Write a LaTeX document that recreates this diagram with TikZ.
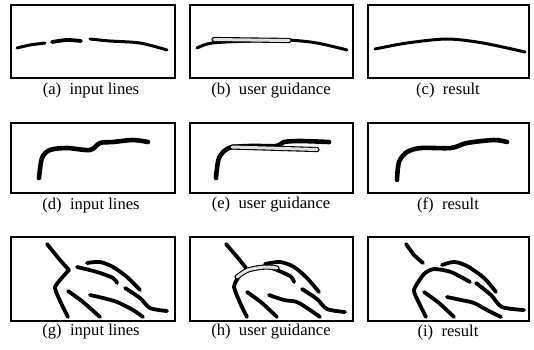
\documentclass[tikz,border=0pt]{standalone}
\usepackage{fontspec}
\setmainfont{Liberation Serif}
\begin{document}
\begin{tikzpicture}[x=1pt,y=-1pt,
  panel/.style={draw=black,line width=1.1pt},
  stroke/.style={draw=black,line width=3.8pt,line cap=round,line join=round},
  thin stroke/.style={draw=black,line width=3pt,line cap=round,line join=round},
  guide/.style={draw=black,line width=1.1pt,double=black!12,double distance=3pt,line cap=round,line join=round},
  captext/.style={font=\fontsize{16.6}{18}\selectfont,inner sep=0pt,anchor=center}]
\useasboundingbox (0,0) rectangle (534,349);
\fill[white] (0,0) rectangle (534,349);
% panels
\draw[panel] (11,5) rectangle (175,78);
\draw[panel] (190,5) rectangle (353,78);
\draw[panel] (368,5) rectangle (529,78);
\draw[panel] (11,123) rectangle (175,193);
\draw[panel] (190,123) rectangle (353,193);
\draw[panel] (368,123) rectangle (529,193);
\draw[panel] (11,237) rectangle (175,321);
\draw[panel] (190,237) rectangle (353,321);
\draw[panel] (368,237) rectangle (529,321);
% captions
\node[captext] (ca) at (91,91) {(a)\ \ input lines};
\node[captext] (cb) at (271,91) {(b)\ \ user guidance};
\node[captext] (cc) at (448,91) {(c)\ \ result};
\node[captext] (cd) at (91,205) {(d)\ \ input lines};
\node[captext] (ce) at (271,205) {(e)\ \ user guidance};
\node[captext] (cf) at (448,205) {(f)\ \ result};
\node[captext] (cg) at (91,332) {(g)\ \ input lines};
\node[captext] (ch) at (271,332) {(h)\ \ user guidance};
\node[captext] (ci) at (448,332) {(i)\ \ result};
% (a)
\draw[thin stroke] plot[smooth] coordinates {(17,48) (30,45) (45,43)};
\draw[stroke] plot[smooth] coordinates {(52,42) (67,40) (81,41)};
\draw[thin stroke] plot[smooth] coordinates {(90,39) (110,41) (140,43) (167,50)};
% (b)
\draw[thin stroke] plot[smooth] coordinates {(197,48) (212,43) (250,41) (287,40) (317,43) (347,50)};
\draw[guide] (214,39.5) -- (289,40.5);
% (c)
\draw[thin stroke] plot[smooth] coordinates {(375,49) (407,43) (447,39) (483,43) (525,52)};
% (d)
\draw[stroke,line width=4.6pt] plot[smooth,tension=0.5] coordinates {(39,178) (42,158) (50,150) (67,148) (90,150) (100,143) (113,142) (133,140) (148,142)};
% (e)
\draw[stroke,line width=4.6pt] plot[smooth,tension=0.5] coordinates {(216,178) (219,158) (229,148) (250,146) (276,146) (284,142) (300,141) (329,142)};
\draw[guide] (232,147) -- (317,149.5);
% (f)
\draw[stroke,line width=4.6pt] plot[smooth,tension=0.5] coordinates {(397,180) (399,162) (407,152) (421,148) (451,148) (467,143) (494,140) (507,142)};
% (g)
\draw[stroke] plot[smooth,tension=0.3] coordinates {(47,244) (60,260) (69,270)};
\draw[stroke] plot[smooth,tension=0.3] coordinates {(69,270) (55,287) (62,305) (68,317)};
\draw[stroke] plot[smooth] coordinates {(77,267) (97,272) (113,278) (117,283)};
\draw[stroke] plot[smooth] coordinates {(87,263) (100,262) (113,267) (127,277) (140,290)};
\draw[stroke] plot[smooth] coordinates {(68,291) (83,302) (100,317)};
\draw[stroke] plot[smooth] coordinates {(90,295) (103,298) (117,302) (133,310) (143,317)};
\draw[stroke] plot[smooth] coordinates {(125,288) (140,298) (150,308) (167,311)};
% (h)
\draw[stroke] plot[smooth,tension=0.3] coordinates {(226,244) (238,258) (246,268)};
\draw[stroke] plot[smooth] coordinates {(265,264) (280,262) (294,267) (307,278) (319,292)};
\draw[stroke] plot[smooth] coordinates {(272,268) (290,276) (294,282)};
\draw[stroke] plot[smooth,tension=0.4] coordinates {(238,278) (234,287) (241,305) (247,317)};
\draw[stroke] plot[smooth] coordinates {(247,292) (262,303) (277,317)};
\draw[stroke] plot[smooth] coordinates {(269,295) (284,300) (297,302) (310,310) (320,317)};
\draw[stroke] plot[smooth] coordinates {(302,289) (317,299) (327,309) (345,312)};
\draw[guide] plot[smooth] coordinates {(237,277) (248,270) (265,267) (277,268)};
% (i)
\draw[stroke] plot[smooth,tension=0.3] coordinates {(406,244) (414,255) (423,263)};
\draw[stroke] plot[smooth,tension=0.4] coordinates {(426,317) (419,303) (414,290) (424,274) (434,269) (451,272) (470,282)};
\draw[stroke] plot[smooth] coordinates {(442,265) (454,262) (467,266) (484,278) (496,292)};
\draw[stroke] plot[smooth] coordinates {(424,292) (439,303) (454,317)};
\draw[stroke] plot[smooth] coordinates {(447,297) (461,300) (474,303) (487,310) (501,317)};
\draw[stroke] plot[smooth] coordinates {(476,283) (491,295) (502,307) (524,310)};
\end{tikzpicture}
\end{document}
